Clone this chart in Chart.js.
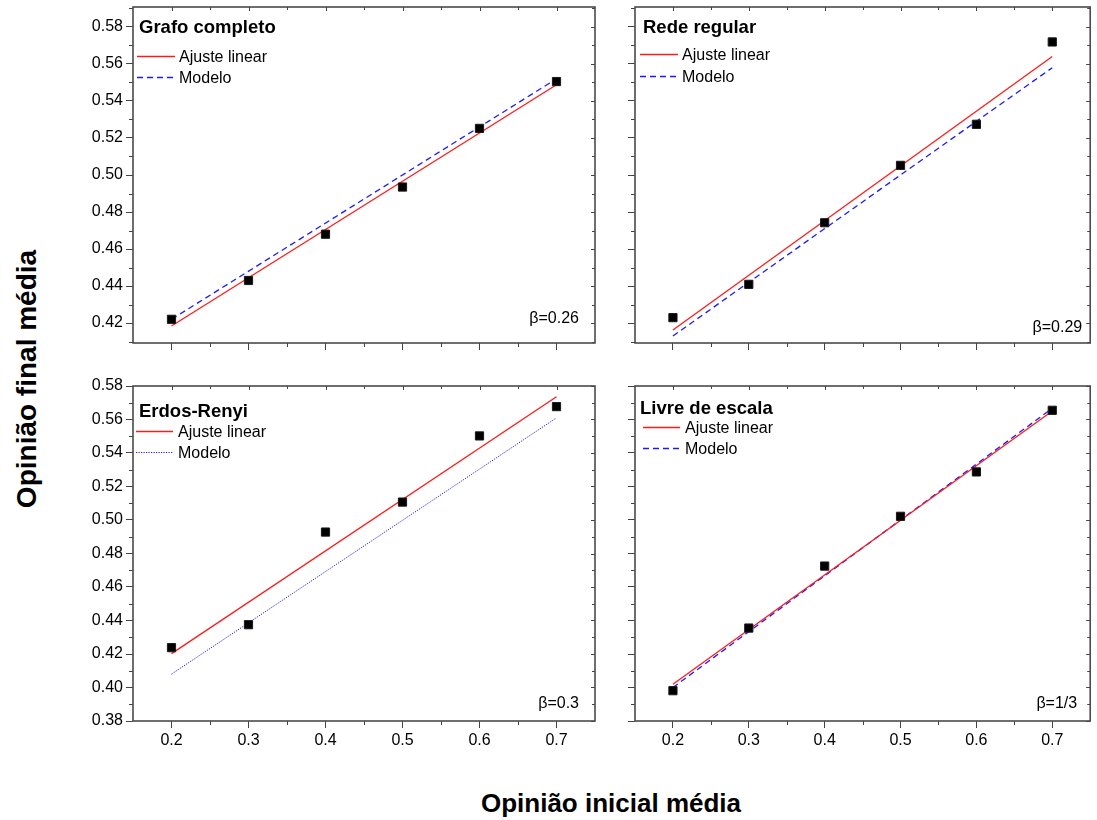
<!DOCTYPE html>
<html>
<head>
<meta charset="utf-8">
<title>Opinião final média x Opinião inicial média</title>
<script src="https://cdn.jsdelivr.net/npm/chart.js@4.4.1/dist/chart.umd.min.js"></script>
<style>
  body { margin: 0; background: #fff; }
  #fig { position: relative; width: 1097px; height: 820px; font-family: 'Liberation Sans', Arial, sans-serif; }
  #fig canvas { position: absolute; }
  .axis-title { position: absolute; font-weight: bold; white-space: nowrap; color: #000; }
  #ytitle { left: 27px; top: 379px; font-size: 28px; transform: translate(-50%, -50%) rotate(-90deg); }
  #xtitle { left: 611px; top: 803px; font-size: 26px; transform: translate(-50%, -50%); }
</style>
</head>
<body>
<div id="fig">
  <canvas id="c1" width="545" height="365" style="left:60px;top:0px"></canvas>
  <canvas id="c2" width="492" height="365" style="left:605px;top:0px"></canvas>
  <canvas id="c3" width="545" height="380" style="left:60px;top:375px"></canvas>
  <canvas id="c4" width="492" height="380" style="left:605px;top:375px"></canvas>
  <div class="axis-title" id="ytitle">Opinião final média</div>
  <div class="axis-title" id="xtitle">Opinião inicial média</div>
</div>
<script>
const xValues = [0.2, 0.3, 0.4, 0.5, 0.6, 0.7];
const lineX = [0.2, 0.7];

const grafoCompleto = [0.422, 0.443, 0.468, 0.4935, 0.5252, 0.5505];
const grafoCompletoFit = [0.4184, 0.5488];
const grafoCompletoModelo = [0.422, 0.552];

const redeRegular = [0.4229, 0.4409, 0.4742, 0.5052, 0.5274, 0.5719];
const redeRegularFit = [0.4162, 0.564];
const redeRegularModelo = [0.413, 0.558];

const erdosRenyi = [0.4238, 0.4375, 0.4928, 0.5107, 0.5502, 0.5677];
const erdosRenyiFit = [0.4202, 0.5736];
const erdosRenyiModelo = [0.408, 0.561];

const livreEscala = [0.3981, 0.4355, 0.4725, 0.5022, 0.5287, 0.5655];
const livreEscalaFit = [0.4019, 0.5651];
const livreEscalaModelo = [0.40, 0.5667];

const xTicks = [0.2, 0.3, 0.4, 0.5, 0.6, 0.7];
const xMinor = [0.25, 0.35, 0.45, 0.55, 0.65];
const yTicksTop = [0.42, 0.44, 0.46, 0.48, 0.50, 0.52, 0.54, 0.56, 0.58];
const yMinorTop = [0.41, 0.43, 0.45, 0.47, 0.49, 0.51, 0.53, 0.55, 0.57, 0.59];
const yTicksBottom = [0.38, 0.40, 0.42, 0.44, 0.46, 0.48, 0.50, 0.52, 0.54, 0.56, 0.58];
const yMinorBottom = [0.39, 0.41, 0.43, 0.45, 0.47, 0.49, 0.51, 0.53, 0.55, 0.57];

const FONT = "'Liberation Sans', Arial, sans-serif";
Chart.defaults.font.family = FONT;
Chart.defaults.color = '#000';

const pairs = (xs, ys) => xs.map((x, i) => ({x, y: ys[i]}));

// box around the plot area plus the small minor/inner ticks
const frameTicks = {
  id: 'frameTicks',
  afterDraw(chart, args, o) {
    const {ctx, chartArea: a, scales: {x, y}} = chart;
    const seg = (x0, y0, x1, y1) => { ctx.beginPath(); ctx.moveTo(x0, y0); ctx.lineTo(x1, y1); ctx.stroke(); };
    ctx.save();
    ctx.strokeStyle = '#444';
    ctx.lineWidth = 1;
    o.xMinor.forEach(v => {
      const px = Math.round(x.getPixelForValue(v)) + 0.5;
      seg(px, a.bottom, px, a.bottom + 4);
      seg(px, a.top, px, a.top + 3);
    });
    o.xMajor.forEach(v => {
      const px = Math.round(x.getPixelForValue(v)) + 0.5;
      seg(px, a.top, px, a.top + 4);
    });
    o.yMinor.forEach(v => {
      const py = Math.round(y.getPixelForValue(v)) + 0.5;
      seg(a.left - 4, py, a.left, py);
      seg(a.right - 3, py, a.right, py);
    });
    o.yMajor.forEach(v => {
      const py = Math.round(y.getPixelForValue(v)) + 0.5;
      seg(a.right - 4, py, a.right, py);
    });
    ctx.lineWidth = 1.6;
    ctx.strokeStyle = '#4a4a4a';
    ctx.strokeRect(a.left, a.top, a.right - a.left, a.bottom - a.top);
    ctx.restore();
  }
};

// panel name, line legend and beta label inside the plot area
const panelText = {
  id: 'panelText',
  afterDraw(chart, args, o) {
    const {ctx, chartArea: a} = chart;
    ctx.save();
    ctx.fillStyle = '#000';
    ctx.textAlign = 'left';
    ctx.textBaseline = 'alphabetic';
    ctx.font = 'bold 18.5px ' + FONT;
    ctx.fillText(o.title, a.left + o.titleX, a.top + o.titleY);
    ctx.font = '16px ' + FONT;
    ctx.textBaseline = 'middle';
    [1, 2].forEach((i, k) => {
      const ds = chart.data.datasets[i];
      const yy = Math.round(a.top + o.rows[k]) + 0.5;
      ctx.save();
      ctx.strokeStyle = ds.borderColor;
      ctx.lineWidth = ds.borderWidth;
      ctx.setLineDash(ds.borderDash || []);
      ctx.beginPath();
      ctx.moveTo(a.left + o.sample[0], yy);
      ctx.lineTo(a.left + o.sample[1], yy);
      ctx.stroke();
      ctx.restore();
      ctx.fillText(ds.label, a.left + o.textX, yy + 1);
    });
    ctx.textAlign = 'right';
    ctx.textBaseline = 'alphabetic';
    ctx.fillText(o.beta, a.right - o.betaRight, a.bottom - o.betaBottom);
    ctx.restore();
  }
};

function makePanel(id, p) {
  const tickGrid = {drawOnChartArea: false, drawTicks: true, tickLength: 7, color: '#444', lineWidth: 1};
  new Chart(document.getElementById(id), {
    type: 'scatter',
    data: {
      datasets: [
        {
          label: 'dados',
          data: pairs(xValues, p.points),
          pointStyle: 'rect',
          pointRadius: 5.8,
          pointBackgroundColor: '#000',
          pointBorderColor: '#1a1a1a',
          pointBorderWidth: 1,
          showLine: false
        },
        {
          label: 'Ajuste linear',
          data: pairs(lineX, p.fit),
          showLine: true,
          borderColor: '#ff1a1a',
          borderWidth: 1.3,
          pointRadius: 0
        },
        {
          label: 'Modelo',
          data: pairs(lineX, p.modelo),
          showLine: true,
          borderColor: '#1a1aff',
          borderWidth: p.dotted ? 1 : 1.3,
          borderDash: p.dotted ? [1.2, 1.3] : [6, 4],
          pointRadius: 0
        }
      ]
    },
    options: {
      responsive: false,
      animation: false,
      layout: {padding: p.padding},
      scales: {
        x: {
          type: 'linear',
          min: 0.15,
          max: 0.75,
          afterBuildTicks: s => { s.ticks = xTicks.map(v => ({value: v})); },
          afterFit: s => { s.height = p.xHeight; s.paddingLeft = 0; s.paddingRight = 0; },
          grid: tickGrid,
          border: {display: false},
          ticks: {display: p.showX, font: {size: 16}, padding: 3, callback: v => v.toFixed(1)}
        },
        y: {
          type: 'linear',
          min: p.yMin,
          max: p.yMax,
          afterBuildTicks: s => { s.ticks = p.yTicks.map(v => ({value: v})); },
          afterFit: s => { s.width = p.yWidth; s.paddingTop = 0; s.paddingBottom = 0; },
          grid: tickGrid,
          border: {display: false},
          ticks: {display: p.showY, font: {size: 16}, padding: 3, callback: v => v.toFixed(2)}
        }
      },
      plugins: {
        legend: {display: false},
        tooltip: {enabled: false},
        frameTicks: {xMinor, xMajor: xTicks, yMinor: p.yMinor, yMajor: p.yTicks},
        panelText: p.text
      }
    },
    plugins: [frameTicks, panelText]
  });
}

makePanel('c1', {
  points: grafoCompleto, fit: grafoCompletoFit, modelo: grafoCompletoModelo,
  yMin: 0.4092, yMax: 0.5908, yTicks: yTicksTop, yMinor: yMinorTop,
  showX: false, showY: true, yWidth: 73, xHeight: 22,
  padding: {top: 7, right: 10, left: 0, bottom: 0},
  text: {title: 'Grafo completo', titleX: 6, titleY: 26, rows: [49, 70], sample: [4, 42], textX: 46,
         beta: 'β=0.26', betaRight: 16, betaBottom: 20}
});

makePanel('c2', {
  points: redeRegular, fit: redeRegularFit, modelo: redeRegularModelo,
  yMin: 0.4092, yMax: 0.5908, yTicks: yTicksTop, yMinor: yMinorTop,
  showX: false, showY: false, yWidth: 30, xHeight: 22,
  padding: {top: 7, right: 1, left: 0, bottom: 0},
  text: {title: 'Rede regular', titleX: 8, titleY: 26, rows: [47, 69], sample: [5, 43], textX: 47,
         beta: 'β=0.29', betaRight: 8, betaBottom: 11}
});

makePanel('c3', {
  points: erdosRenyi, fit: erdosRenyiFit, modelo: erdosRenyiModelo, dotted: true,
  yMin: 0.38, yMax: 0.58, yTicks: yTicksBottom, yMinor: yMinorBottom,
  showX: true, showY: true, yWidth: 73, xHeight: 34,
  padding: {top: 11, right: 10, left: 0, bottom: 0},
  text: {title: 'Erdos-Renyi', titleX: 6, titleY: 31, rows: [45, 66], sample: [3, 40], textX: 45,
         beta: 'β=0.3', betaRight: 16, betaBottom: 13}
});

makePanel('c4', {
  points: livreEscala, fit: livreEscalaFit, modelo: livreEscalaModelo,
  yMin: 0.38, yMax: 0.58, yTicks: yTicksBottom, yMinor: yMinorBottom,
  showX: true, showY: false, yWidth: 30, xHeight: 34,
  padding: {top: 11, right: 1, left: 0, bottom: 0},
  text: {title: 'Livre de escala', titleX: 5, titleY: 28, rows: [41, 62], sample: [8, 45], textX: 50,
         beta: 'β=1/3', betaRight: 13, betaBottom: 13}
});
</script>
</body>
</html>
